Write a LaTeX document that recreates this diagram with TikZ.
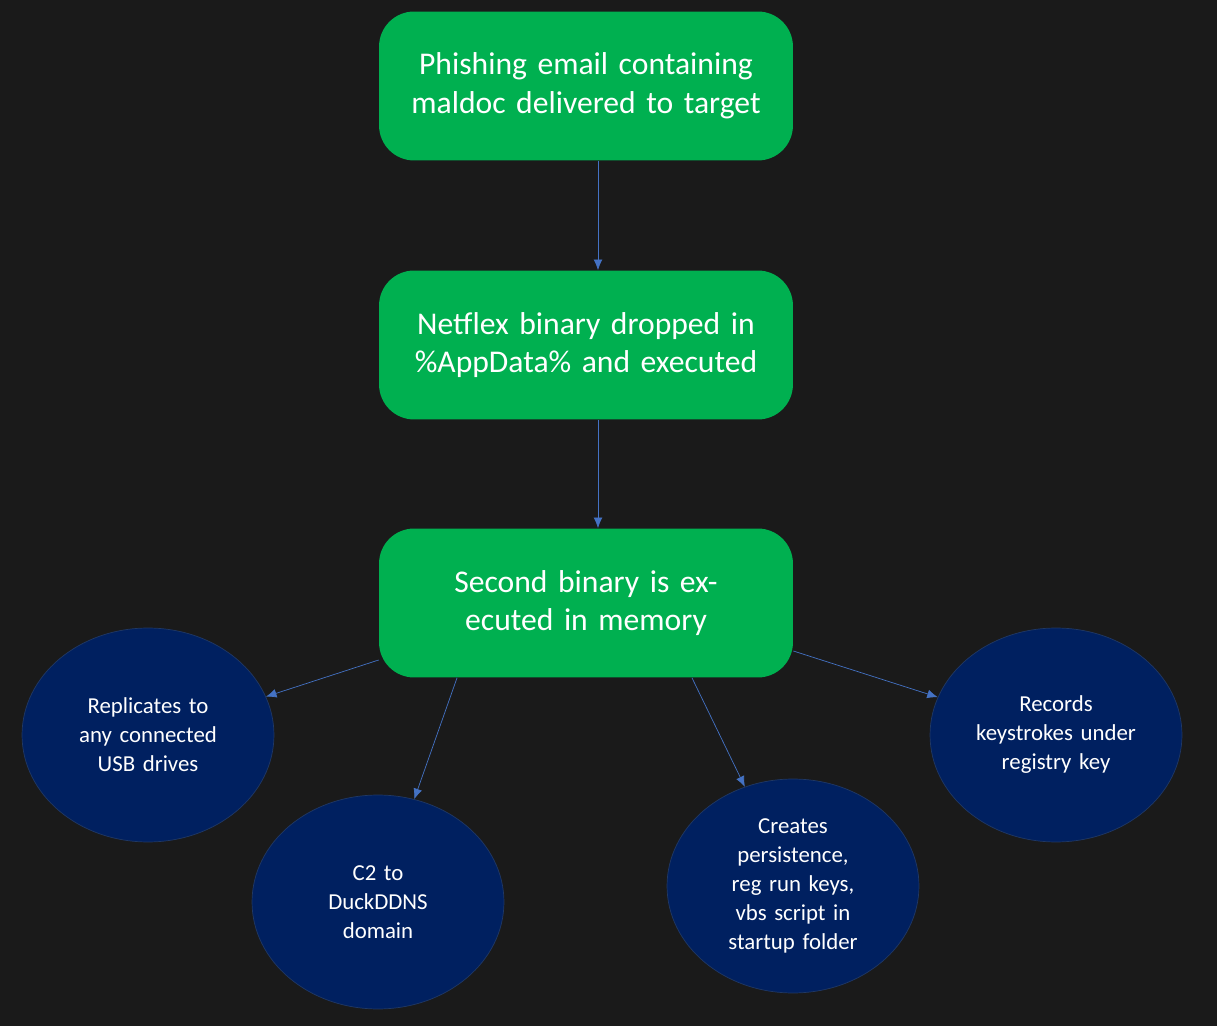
\documentclass[tikz,border=0pt]{standalone}
\usepackage{fontspec}
\setmainfont{Carlito}
\usetikzlibrary{positioning, arrows.meta, shapes.geometric}
\definecolor{bgdark}{HTML}{1A1A1A}
\definecolor{stepgreen}{HTML}{00B050}
\definecolor{effectblue}{HTML}{002060}
\definecolor{effectrim}{HTML}{203864}
\definecolor{linkblue}{HTML}{4472C4}

\begin{document}
\begin{tikzpicture}[x=0.02cm, y=-0.02cm,
    stage/.style={draw=none, fill=stepgreen, rounded corners=20pt, minimum width=8.28cm,
      minimum height=2.98cm, text width=7.4cm, align=center, text=white, font=\fontsize{18}{22}\selectfont},
    effect/.style={ellipse, draw=effectrim, fill=effectblue, minimum width=5.04cm,
      minimum height=4.28cm, text width=3.2cm, align=center, text=white, font=\fontsize{13}{16.5}\selectfont},
    link/.style={-{Latex[length=6pt,width=5pt]}, linkblue, thin}]
  % Background
  \fill[bgdark] (0,0) rectangle (1217,1026);
  \useasboundingbox (0,0) rectangle (1217,1026);
  % Main chain
  \node[stage] (phish) at (586,86) {Phishing email containing maldoc delivered to target};
  \node[stage] (netflix) at (586,345) {Netflex binary dropped in \%AppData\% and executed};
  \node[stage] (second) at (586,603) {Second binary is executed in memory};
  % Effects
  \node[effect] (usb) at (148,735) {Replicates to any connected USB drives};
  \node[effect] (ctwo) at (378,902) {C2 to\\DuckDDNS\\domain};
  \node[effect] (persist) at (793,886) {Creates persistence, reg run keys, vbs script in startup folder};
  \node[effect] (keys) at (1056,735) {Records keystrokes under registry key};
  % Arrows
  \draw[link] ([xshift=0.24cm]phish.south) -- ([xshift=0.24cm]netflix.north);
  \draw[link] ([xshift=0.24cm]netflix.south) -- ([xshift=0.24cm]second.north);
  \draw[link] ([yshift=-1.14cm]second.west) -- (usb);
  \draw[link] ([xshift=-2.58cm]second.south) -- (ctwo);
  \draw[link] ([xshift=2.12cm]second.south) -- (persist);
  \draw[link] ([yshift=-0.96cm]second.east) -- (keys);
\end{tikzpicture}
\end{document}
